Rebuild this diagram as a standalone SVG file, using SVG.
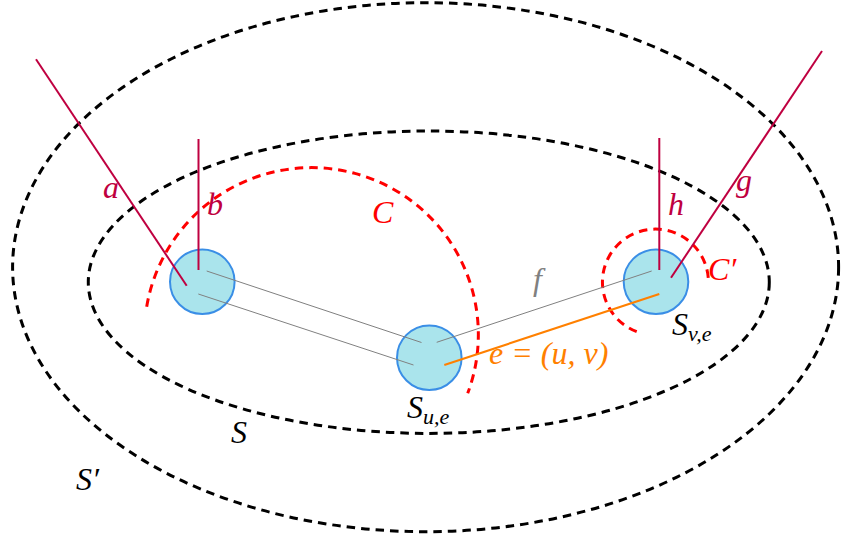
<svg xmlns="http://www.w3.org/2000/svg" width="841" height="539" viewBox="0 0 841 539">
<style>
.reg{fill:none;stroke:#000;stroke-width:3;stroke-dasharray:8.5 6}
.cut{fill:none;stroke:#ff0000;stroke-width:3;stroke-dasharray:8.5 6}
.pe{stroke:#bf0040;stroke-width:2;fill:none}
.ge{stroke:#808080;stroke-width:1;fill:none}
.oe{stroke:#ff8000;stroke-width:2.2;fill:none}
.node{fill:#aae4ec;stroke:#3a8ee6;stroke-width:2}
.t{font-family:'Liberation Serif','Times New Roman',serif;font-style:italic;font-size:32px}
.sub{font-size:22px}
</style>
<g id="node-u">
<circle class="node" cx="429.3" cy="357.7" r="32.3"/>
<text class="t" x="407" y="418" fill="#000">S<tspan class="sub" dy="6">u,e</tspan></text>
</g>
<g id="node-a">
<circle class="node" cx="202.3" cy="281.7" r="32.3"/>
</g>
<g id="node-v">
<circle class="node" cx="656" cy="281.7" r="32.3"/>
<text class="t" x="672" y="335" fill="#000">S<tspan class="sub" dy="6">v,e</tspan></text>
</g>
<g id="regions">
<ellipse class="reg" cx="425.6" cy="267.2" rx="413" ry="264.5"/>
<ellipse class="reg" cx="428.8" cy="282.2" rx="340.5" ry="151.2"/>
<text class="t" x="76" y="490" fill="#000">S′</text>
<text class="t" x="231" y="443" fill="#000">S</text>
</g>
<g id="cuts">
<path class="cut" d="M146.7,306.7 A167,167 0 1 1 467.7,393.3"/>
<path class="cut" d="M636.7,331.7 A53,53 0 1 1 708.3,278.3"/>
<text class="t" x="372" y="223" fill="#ff0000">C</text>
<text class="t" x="708" y="280" fill="#ff0000">C′</text>
</g>
<g id="connectors">
<line class="ge" x1="206.7" y1="271" x2="421.5" y2="342.5"/>
<line class="ge" x1="198.3" y1="294" x2="413.5" y2="365"/>
<line class="ge" x1="436.7" y1="342.3" x2="651.7" y2="271"/>
<line class="oe" x1="444.3" y1="365" x2="659.3" y2="294"/>
<line class="pe" x1="36" y1="59.3" x2="186.7" y2="285.7"/>
<line class="pe" x1="198.5" y1="139" x2="198.5" y2="270"/>
<line class="pe" x1="659.3" y1="138" x2="659.3" y2="270"/>
<line class="pe" x1="822" y1="51" x2="671" y2="277.7"/>
<text class="t" x="103" y="198" fill="#bf0040">a</text>
<text class="t" x="207" y="215" fill="#bf0040">b</text>
<text class="t" x="668" y="215" fill="#bf0040">h</text>
<text class="t" x="736" y="191" fill="#bf0040">g</text>
<text class="t" x="533" y="290" fill="#808080">f</text>
<text class="t" x="489" y="364" fill="#ff8000">e = (u, v)</text>
</g>
</svg>
